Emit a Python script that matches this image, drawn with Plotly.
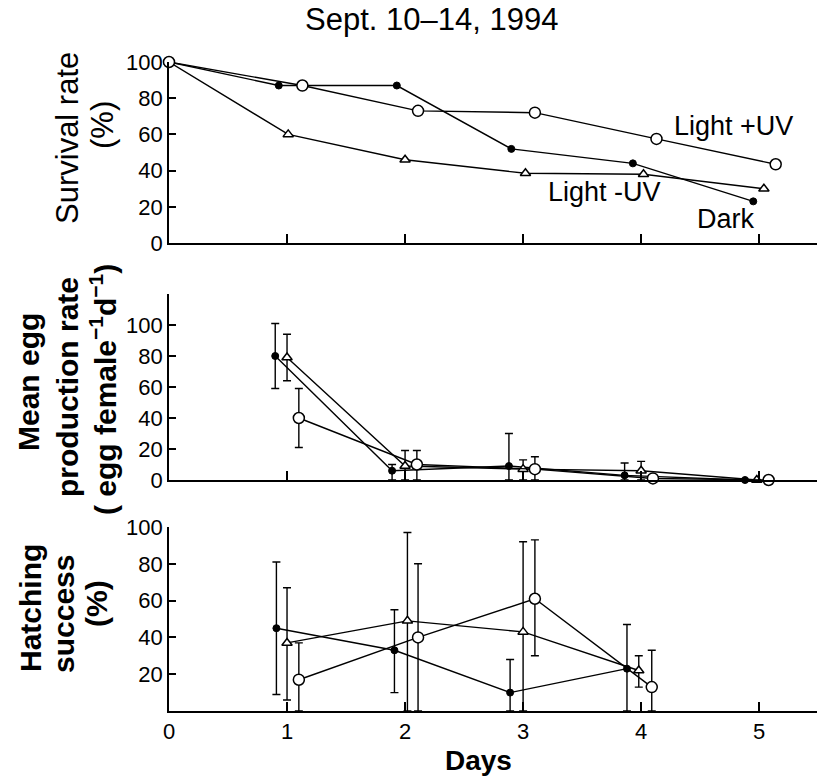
import plotly.graph_objects as go

# ---------------- data ----------------
# Survival rate (%)
surv_uvp_x = [0, 1.13, 2.11, 3.10, 4.13, 5.14]
surv_uvp_y = [100, 87, 73, 72, 57.5, 43.5]
surv_dark_x = [0, 0.93, 1.93, 2.90, 3.93, 4.95]
surv_dark_y = [100, 87, 87, 52, 44, 23]
surv_uvm_x = [0, 1.01, 2.00, 3.02, 4.02, 5.04]
surv_uvm_y = [100, 60, 46, 38.5, 38, 30]

# Mean egg production rate
egg_dark_x = [0.90, 1.89, 2.88, 3.86, 4.88]
egg_dark_y = [80, 6, 9, 3, 0]
egg_dark_ep = [21, 4, 21, 8, 0]
egg_dark_em = [21, 6, 9, 3, 0]
egg_uvm_x = [1.00, 2.00, 3.00, 4.00, 4.98]
egg_uvm_y = [79, 9, 7, 6, 0]
egg_uvm_ep = [15, 10, 6, 6, 0]
egg_uvm_em = [15, 9, 7, 6, 0]
egg_uvp_x = [1.10, 2.10, 3.10, 4.10, 5.08]
egg_uvp_y = [40, 10, 7, 1, 0]
egg_uvp_ep = [19, 9, 8, 0, 0]
egg_uvp_em = [19, 10, 7, 0, 0]

# Hatching success (%)
hat_dark_x = [0.91, 1.91, 2.89, 3.88]
hat_dark_y = [45, 33, 10, 23]
hat_dark_ep = [36, 22, 18, 24]
hat_dark_em = [36, 23, 10, 23]
hat_uvm_x = [1.00, 2.02, 3.00, 3.98]
hat_uvm_y = [37, 49, 43, 22]
hat_uvm_ep = [30, 48, 49, 8]
hat_uvm_em = [31, 49, 43, 9]
hat_uvp_x = [1.10, 2.11, 3.10, 4.09]
hat_uvp_y = [17, 40, 61, 13]
hat_uvp_ep = [20, 40, 32, 20]
hat_uvp_em = [17, 40, 31, 13]

day_ticks = [0, 1, 2, 3, 4, 5]
day_labels = ["0", "1", "2", "3", "4", "5"]
surv_ticks = [0, 20, 40, 60, 80, 100]
egg_ticks = [0, 20, 40, 60, 80, 100]
egg_extra_tick = [120]
hat_ticks = [20, 40, 60, 80, 100]

# ---------------- figure ----------------
W, H = 821, 780
FONT = "Liberation Sans, Arial, sans-serif"
fig = go.Figure()

open_circle = dict(symbol="circle", size=11, color="white", line=dict(color="black", width=1.5))
filled_circle = dict(symbol="circle", size=7, color="black", line=dict(color="black", width=1))
open_tri = dict(symbol="triangle-up", size=9, color="white", line=dict(color="black", width=1.5))
line_style = dict(color="black", width=1.4)


def err(p, m):
    return dict(type="data", symmetric=False, array=p, arrayminus=m,
                color="black", thickness=1.4, width=4)


def add(x, y, marker, xa, ya, ep=None, em=None):
    kw = {}
    if ep is not None:
        kw["error_y"] = err(ep, em)
    fig.add_trace(go.Scatter(x=x, y=y, mode="lines+markers", marker=marker, line=line_style,
                             xaxis=xa, yaxis=ya, showlegend=False, cliponaxis=False, **kw))


# top panel
add(surv_uvm_x, surv_uvm_y, open_tri, "x", "y")
add(surv_dark_x, surv_dark_y, filled_circle, "x", "y")
add(surv_uvp_x, surv_uvp_y, open_circle, "x", "y")
# middle panel
add(egg_dark_x, egg_dark_y, filled_circle, "x2", "y2", egg_dark_ep, egg_dark_em)
add(egg_uvm_x, egg_uvm_y, open_tri, "x2", "y2", egg_uvm_ep, egg_uvm_em)
add(egg_uvp_x, egg_uvp_y, open_circle, "x2", "y2", egg_uvp_ep, egg_uvp_em)
# bottom panel
add(hat_dark_x, hat_dark_y, filled_circle, "x3", "y3", hat_dark_ep, hat_dark_em)
add(hat_uvm_x, hat_uvm_y, open_tri, "x3", "y3", hat_uvm_ep, hat_uvm_em)
add(hat_uvp_x, hat_uvp_y, open_circle, "x3", "y3", hat_uvp_ep, hat_uvp_em)


def py(p):
    return 1 - p / H


LEFT, RIGHT = 169, 817
XR = [0, 5.49]


def px(p):
    return (p - LEFT) / (RIGHT - LEFT)


TICKFONT = dict(size=22, color="black", family=FONT)
common_x = dict(range=XR, showgrid=False, zeroline=False, showline=True, linecolor="black",
                linewidth=1.8, ticks="inside", ticklen=9, tickwidth=1.5, tickcolor="black",
                tickvals=day_ticks[1:], domain=[0, 1], automargin=False)
common_y = dict(showgrid=False, zeroline=False, showline=True, linecolor="black", linewidth=1.8,
                ticks="inside", ticklen=7, tickwidth=1.5, tickcolor="black", automargin=False,
                tickfont=TICKFONT)

fig.update_layout(
    width=W, height=H,
    margin=dict(l=LEFT, r=W - RIGHT, t=0, b=0),
    paper_bgcolor="white", plot_bgcolor="white",
    font=dict(family=FONT, color="black", size=22),
    xaxis=dict(common_x, anchor="y", showticklabels=False),
    xaxis2=dict(common_x, anchor="y2", showticklabels=False),
    xaxis3=dict(common_x, anchor="y3", tickvals=day_ticks, ticktext=day_labels,
                tickfont=TICKFONT),
    yaxis=dict(common_y, anchor="x", range=[0, 100], tickvals=surv_ticks,
               domain=[py(243), py(62)]),
    yaxis2=dict(common_y, anchor="x2", range=[0, 120], tickvals=egg_ticks,
                minor=dict(tickmode="array", tickvals=egg_extra_tick, ticks="inside", ticklen=7,
                           tickwidth=1.5, tickcolor="black", showgrid=False),
                domain=[py(480), py(294)]),
    yaxis3=dict(common_y, anchor="x3", range=[0, 100], tickvals=hat_ticks,
                domain=[py(711), py(527)]),
)

ann = []
# title
ann.append(dict(text="Sept. 10\u201314, 1994", x=px(431), y=py(19), xref="paper", yref="paper",
                showarrow=False, font=dict(size=31, family=FONT), xanchor="center", yanchor="middle"))
# y titles
ytitles = [
    ("Survival rate", 67, 138, False, 31),
    ("(%)", 103, 125, False, 31),
    ("Mean egg", 28, 382, True, 30),
    ("production rate", 67, 387, True, 30),
    ("( egg female<sup>\u22121</sup>d<sup>\u22121</sup>)", 103, 390, True, 30),
    ("Hatching", 30, 608, True, 30),
    ("success", 63, 614, True, 30),
    ("(%)", 96, 604, True, 30),
]
for t, xx, yy, bold, fs in ytitles:
    txt = f"<b>{t}</b>" if bold else t
    ann.append(dict(text=txt, x=px(xx), y=py(yy), xref="paper", yref="paper", textangle=-90,
                    showarrow=False, font=dict(size=fs, family=FONT), xanchor="center", yanchor="middle"))
# series labels in the top panel
ann.append(dict(text="Light +UV", x=4.26, y=64.5, xref="x", yref="y", showarrow=False,
                xanchor="left", yanchor="middle", font=dict(size=27, family=FONT)))
ann.append(dict(text="Light -UV", x=3.19, y=28, xref="x", yref="y", showarrow=False,
                xanchor="left", yanchor="middle", font=dict(size=27, family=FONT)))
ann.append(dict(text="Dark", x=4.46, y=13, xref="x", yref="y", showarrow=False,
                xanchor="left", yanchor="middle", font=dict(size=27, family=FONT)))
# x title
ann.append(dict(text="<b>Days</b>", x=px(478), y=py(760), xref="paper", yref="paper",
                showarrow=False, font=dict(size=28, family=FONT), xanchor="center", yanchor="middle"))
fig.update_layout(annotations=ann)

fig.write_html("out.html")
